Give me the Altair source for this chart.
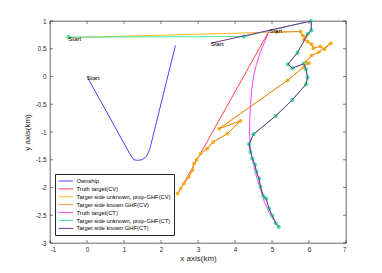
import altair as alt
import pandas as pd

# ---------------- data (km) ----------------
ownship_x = [0.0, 1.18, 1.27, 1.36, 1.49, 1.61, 1.70, 2.39]
ownship_y = [0.0, -1.42, -1.50, -1.51, -1.50, -1.44, -1.30, 0.56]

truth_cv_x = [4.93, 2.45]
truth_cv_y = [0.83, -2.12]

unk_cv_x = [-0.5, 5.12, 5.77, 5.83, 5.91, 5.86, 5.96, 6.07, 6.12, 6.31, 6.42, 6.59, 6.27, 6.07,
            5.91, 6.00, 5.86, 5.42, 3.57, 4.15, 3.79, 3.41, 3.25, 3.07, 2.96, 2.89, 2.85, 2.75,
            2.62, 2.53, 2.45]
unk_cv_y = [0.70, 0.80, 0.81, 0.74, 0.71, 0.67, 0.63, 0.58, 0.51, 0.54, 0.49, 0.60, 0.44, 0.38,
            0.26, 0.24, 0.17, -0.07, -0.94, -0.80, -1.03, -1.18, -1.30, -1.39, -1.50, -1.57, -1.69,
            -1.81, -1.93, -2.02, -2.11]

known_cv_x = unk_cv_x[1:]
known_cv_y = unk_cv_y[1:]

truth_ct_x = [4.93, 4.80, 4.69, 4.58, 4.50, 4.45, 4.42, 4.40, 4.39, 4.41, 4.47, 4.56, 4.67,
              4.79, 4.92, 5.06, 5.18]
truth_ct_y = [0.83, 0.62, 0.45, 0.22, 0.0, -0.25, -0.5, -0.75, -1.0, -1.25, -1.5, -1.75, -2.0,
              -2.25, -2.45, -2.6, -2.72]

unk_ct_x = [-0.5, 4.24, 6.06, 6.06, 5.97, 5.69, 5.43, 5.55, 5.86, 5.92, 5.96, 5.92, 5.55, 5.10,
            4.50, 4.38, 4.42, 4.47, 4.54, 4.58, 4.65, 4.69, 4.77, 4.84, 4.92, 5.01, 5.10, 5.18]
unk_ct_y = [0.71, 0.72, 1.00, 0.83, 0.77, 0.43, 0.22, 0.15, 0.23, 0.13, -0.02, -0.14, -0.42, -0.71,
            -1.04, -1.22, -1.36, -1.48, -1.59, -1.72, -1.84, -1.99, -2.16, -2.20, -2.38, -2.51,
            -2.64, -2.71]

known_ct_x = [3.35] + unk_ct_x[2:]
known_ct_y = [0.60] + unk_ct_y[2:]

start_x = [0.0, -0.5, 4.93, 3.35]
start_y = [0.0, 0.70, 0.83, 0.60]
start_text = ["Start", "Start", "Start", "Start"]

x_ticks = [-1, 0, 1, 2, 3, 4, 5, 6, 7]
y_ticks = [-3, -2.5, -2, -1.5, -1, -0.5, 0, 0.5, 1]

names = ["Ownship", "Truth target(CV)", "Target side unknown, prop-GHF(CV)",
         "Target side known GHF(CV)", "Truth target(CT)",
         "Target side unknown, prop-GHF(CT)", "Target side known GHF(CT)"]
colors = ["#4545FF", "#FF4545", "#FFB520", "#E8902E", "#FF40FF", "#40E8A0", "#7E2F8E"]
marker_colors = ["transparent", "transparent", "#FFB520", "transparent", "transparent",
                 "#40E8A0", "transparent"]

series_xy = [(ownship_x, ownship_y), (truth_cv_x, truth_cv_y), (unk_cv_x, unk_cv_y),
             (known_cv_x, known_cv_y), (truth_ct_x, truth_ct_y), (unk_ct_x, unk_ct_y),
             (known_ct_x, known_ct_y)]

rows = []
for name, (xs, ys) in zip(names, series_xy):
    for i, (a, b) in enumerate(zip(xs, ys)):
        rows.append({"series": name, "x": a, "y": b, "i": i})
df = pd.DataFrame(rows)

W, H = 296, 222
FONT = "Liberation Sans"

xscale = alt.Scale(domain=[-1, 7], nice=False, zero=False)
yscale = alt.Scale(domain=[-3, 1], nice=False, zero=False)
cscale = alt.Scale(domain=names, range=colors)
fscale = alt.Scale(domain=names, range=marker_colors)

LINE = "M-1,0L3.2,0"
DOT = "M0.45,0A0.65,0.65,0,1,1,1.75,0A0.65,0.65,0,1,1,0.45,0"

common_leg = dict(title=None, orient="none", legendX=5, legendY=153, direction="vertical",
                  labelFont=FONT, labelFontSize=5.8, labelOffset=10.5, symbolSize=49,
                  padding=3, rowPadding=0.9, labelLimit=200)

legend_lines = alt.Legend(symbolType=LINE, symbolStrokeWidth=1, labelColor="#000000",
                          strokeColor="#262626", fillColor="white", zindex=1, **common_leg)
legend_dots = alt.Legend(symbolType=DOT, symbolStrokeWidth=0, labelColor="transparent",
                         symbolOpacity=1, zindex=2, **common_leg)

xaxis = alt.Axis(values=x_ticks, title="x axis(km)", grid=False, domain=False, ticks=False,
                 labelExpr="datum.value + ''", labelPadding=3, titlePadding=2)
yaxis = alt.Axis(values=y_ticks, title="y axis(km)", grid=False, domain=False, ticks=False,
                 labelExpr="datum.value + ''", labelPadding=4, titlePadding=4)


def X(field):
    return alt.X(field, scale=xscale, axis=xaxis)


def Y(field):
    return alt.Y(field, scale=yscale, axis=yaxis)


base = alt.Chart(df)


def line_layer(name, first=False):
    return base.transform_filter(alt.datum.series == name).mark_line(
        strokeWidth=1, opacity=1).encode(
        x=X("x:Q"), y=Y("y:Q"),
        color=alt.Color("series:N", scale=cscale, legend=legend_lines if first else None),
        order="i:Q",
    )


def point_layer(name, size, first=False):
    return base.transform_filter(alt.datum.series == name).mark_circle(
        size=size, opacity=1).encode(
        x=X("x:Q"), y=Y("y:Q"),
        fill=alt.Fill("series:N", scale=fscale, legend=legend_dots if first else None),
    )


layers = [
    line_layer(names[0], first=True),
    line_layer(names[1]),
    line_layer(names[2]),
    point_layer(names[2], 15, first=True),
    line_layer(names[3]),
    line_layer(names[4]),
    line_layer(names[5]),
    point_layer(names[5], 18),
    line_layer(names[6]),
]

start_df = pd.DataFrame({"x": start_x, "y": start_y, "t": start_text})
starts = alt.Chart(start_df).mark_text(
    align="left", baseline="middle", fontSize=6, font=FONT, color="#000000", dx=0, dy=1
).encode(x=X("x:Q"), y=Y("y:Q"), text="t:N")

xt = pd.DataFrame({"x": x_ticks})
yt = pd.DataFrame({"y": y_ticks})
TL = 3
tick_col = "#262626"
xt_bottom = alt.Chart(xt).mark_rule(color=tick_col, strokeWidth=0.6).encode(
    x=X("x:Q"), y=alt.value(H), y2=alt.value(H - TL))
xt_top = alt.Chart(xt).mark_rule(color=tick_col, strokeWidth=0.6).encode(
    x=X("x:Q"), y=alt.value(0), y2=alt.value(TL))
yt_left = alt.Chart(yt).mark_rule(color=tick_col, strokeWidth=0.6).encode(
    y=Y("y:Q"), x=alt.value(0), x2=alt.value(TL))
yt_right = alt.Chart(yt).mark_rule(color=tick_col, strokeWidth=0.6).encode(
    y=Y("y:Q"), x=alt.value(W - TL), x2=alt.value(W))

chart = alt.layer(*layers, starts, xt_bottom, xt_top, yt_left, yt_right).properties(
    width=W, height=H,
    autosize=alt.AutoSizeParams(type="none"),
    padding={"left": 42, "top": 13, "right": 20, "bottom": 22},
).configure_view(
    stroke="#262626", strokeWidth=0.7
).configure_axis(
    labelFont=FONT, labelFontSize=6.3, labelColor="#262626",
    titleFont=FONT, titleFontSize=8, titleFontWeight="normal", titleColor="#262626",
)

chart.save("out.html", embed_options={"renderer": "svg", "actions": False})
